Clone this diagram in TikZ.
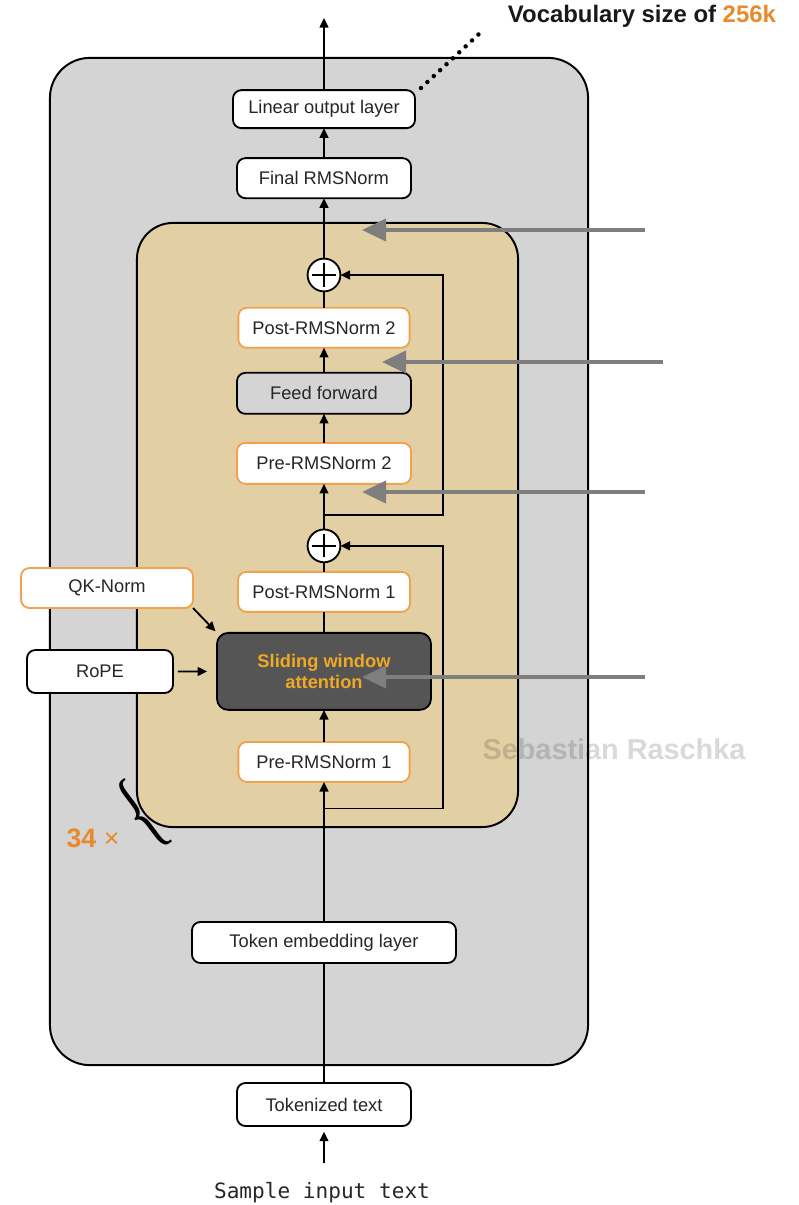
\documentclass[tikz,border=0pt]{standalone}
\usepackage{fontspec}
\setmainfont{Liberation Sans}
\setmonofont{DejaVu Sans Mono}
\newfontfamily\bracefont{Liberation Serif}
\usepackage{xcolor}
\definecolor{stackgray}{HTML}{D4D4D4}
\definecolor{blocktan}{HTML}{E2CFA4}
\definecolor{normorange}{HTML}{F0A24E}
\definecolor{accent}{HTML}{E8892B}
\definecolor{attnfill}{HTML}{555555}
\definecolor{attntext}{HTML}{F0A825}
\definecolor{hintgray}{HTML}{7E7E7E}
\usepackage{tikz}
\usetikzlibrary{arrows.meta,positioning,calc}

\begin{document}
\begin{tikzpicture}[
  x=0.025cm, y=-0.025cm,
  font=\fontsize{13}{15}\selectfont,
  layer/.style={draw, rounded corners=6pt, align=center, fill=white,
                line width=1.3pt, text=black!85, inner sep=0pt, outer sep=0pt,
                minimum height=0.95cm},
  normlayer/.style={layer, draw=normorange},
  attnlayer/.style={layer, fill=attnfill, text=attntext, rounded corners=8pt,
                    font=\bfseries\fontsize{13}{15.5}\selectfont},
  adder/.style={circle, draw, fill=white, line width=1.3pt,
                minimum size=0.82cm, inner sep=0pt, outer sep=0pt,
                path picture={\draw[line width=1.3pt]
                  ($(path picture bounding box.center)+(-0.29cm,0)$) -- ++(0.58cm,0)
                  ($(path picture bounding box.center)+(0,-0.29cm)$) -- ++(0,0.58cm);}},
  panel/.style={draw, line width=1.4pt, inner sep=0pt},
  arr/.style={-{Triangle[length=2.4mm,width=2.2mm]}, line width=1.3pt},
  link/.style={line width=1.3pt},
  pointer/.style={-{Triangle[length=0.6cm,width=0.55cm]}, line width=2.8pt,
                  draw=hintgray},
  dots/.style={line width=3.2pt, dash pattern=on 0pt off 6.2pt, line cap=round}
]
\useasboundingbox (0,0) rectangle (799,1205);
\node[panel, fill=stackgray, rounded corners=1cm, minimum width=13.45cm,
      minimum height=25.175cm] (stack) at (319,561.5) {};
\node[panel, fill=blocktan, rounded corners=0.9cm, minimum width=9.525cm,
      minimum height=15.1cm] (block) at (327.5,525) {};

\node[layer, minimum width=4.35cm, minimum height=1.075cm] (tokd) at (324,1104.5) {Tokenized text};
\node[layer, minimum width=6.6cm, minimum height=1.025cm, above=3.0cm of tokd] (emb) {Token embedding layer};
\node[normlayer, minimum width=4.28cm, minimum height=1.0cm, above=3.5cm of emb] (pre1) {Pre-RMSNorm 1};
\node[attnlayer, minimum width=5.35cm, minimum height=1.925cm, above=0.8cm of pre1] (attn) {Sliding window\\attention};
\node[normlayer, minimum width=4.3cm, minimum height=1.0cm, above=0.525cm of attn] (post1) {Post-RMSNorm 1};
\node[adder, above=0.24cm of post1] (plus2) {};
\node[normlayer, minimum width=4.35cm, minimum height=1.025cm, above=1.14cm of plus2] (pre2) {Pre-RMSNorm 2};
\node[layer, fill=stackgray, minimum width=4.35cm, minimum height=1.025cm, above=0.725cm of pre2] (ff) {Feed forward};
\node[normlayer, minimum width=4.28cm, minimum height=1.0cm, above=0.625cm of ff] (post2) {Post-RMSNorm 2};
\node[adder, above=0.41cm of post2] (plus1) {};
\node[layer, minimum width=4.35cm, minimum height=1.0cm, above=1.51cm of plus1] (final) {Final RMSNorm};
\node[layer, minimum width=4.55cm, minimum height=0.95cm, above=0.75cm of final] (lin) {Linear output layer};

\node[normlayer, minimum width=4.3cm, minimum height=1.0cm] (qknorm) at (107,588) {QK-Norm};
\node[layer, minimum width=3.65cm, minimum height=1.075cm] (rope) at (100,671.5) {RoPE};

\node[anchor=base, font=\ttfamily\fontsize{15}{18}\selectfont, text=black!85] (sample) at (322,1198) {Sample input text};
\node[anchor=base west, font=\bfseries\fontsize{17}{20}\selectfont, text=black!90] (vocab) at (503,22) {Vocabulary size of \textcolor{accent}{256k}};
\node[text=accent, font=\fontsize{19}{22}\selectfont] (reps) at (93,838) {\textbf{34} ×};
\node[rotate=37, xscale=0.58, inner sep=0pt, font=\bracefont\fontsize{68}{68}\selectfont] (brace) at (142,815) {\{};
\node[text=black, opacity=0.15, font=\bfseries\fontsize{20.5}{24}\selectfont] (mark) at (614,749) {Sebastian Raschka};

\coordinate (inp) at (324,1163);
\coordinate (out) at (324,18);
\coordinate (rail) at (443,0);
\coordinate (br1) at ($(pre1.south)!0.19!(emb.north)$);
\coordinate (br2) at ($(plus2.north)!0.32!(pre2.south)$);
\coordinate (dotA) at (421,88);
\coordinate (dotB) at (480,33);

\draw[arr, shorten >=4pt] (inp) -- (tokd.south);
\draw[link] (tokd.north) -- (emb.south);
\draw[arr] (emb.north) -- (pre1.south);
\draw[arr] (pre1.north) -- (attn.south);
\draw[link] (attn.north) -- (post1.south);
\draw[link] (post1.north) -- (plus2.south);
\draw[arr] (plus2.north) -- (pre2.south);
\draw[arr] (pre2.north) -- (ff.south);
\draw[arr] (ff.north) -- (post2.south);
\draw[link] (post2.north) -- (plus1.south);
\draw[arr] (plus1.north) -- (final.south);
\draw[arr] (final.north) -- (lin.south);
\draw[arr] (lin.north) -- (out);
\draw[arr] (br1) -| (rail |- plus2.east) -- (plus2.east);
\draw[arr] (br2) -| (rail |- plus1.east) -- (plus1.east);
\draw[arr, shorten >=1.5pt] (qknorm.south east) -- (attn.north west);
\draw[arr, shorten <=3.5pt, shorten >=7pt] (rope.east) -- (attn.west);
\draw[dots] (dotA) -- (dotB);

\foreach \name/\y/\tail/\tip in {ptA/230/645/362, ptB/362/663/382, ptC/492/645/362, ptD/677/645/362} {
  \coordinate (\name s) at (\tail,\y);
  \coordinate (\name e) at (\tip,\y);
  \draw[pointer] (\name s) -- (\name e);
}
\end{tikzpicture}
\end{document}
